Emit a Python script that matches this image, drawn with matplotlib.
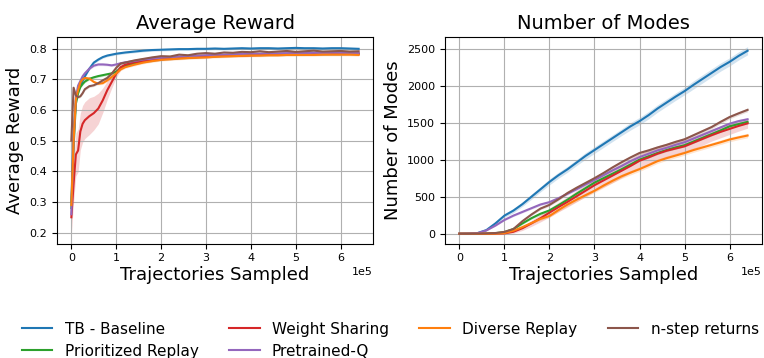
import numpy as np
import matplotlib
matplotlib.use("Agg")
import matplotlib.pyplot as plt

# ---------------- data (x in units of 1e5 trajectories) ----------------
x_reward = [0, 0.05, 0.1, 0.15, 0.2, 0.25, 0.3, 0.4, 0.5, 0.6, 0.7, 0.8, 0.9, 1.0, 1.1, 1.2,
            1.4, 1.6, 1.8, 2.0, 2.2, 2.4, 2.6, 2.8, 3.0, 3.2, 3.4, 3.6, 3.8, 4.0, 4.2, 4.4,
            4.6, 4.8, 5.0, 5.2, 5.4, 5.6, 5.8, 6.0, 6.2, 6.4]

reward_tb = [0.30, 0.52, 0.63, 0.665, 0.68, 0.695, 0.71, 0.735, 0.755, 0.765, 0.773, 0.778, 0.781, 0.784,
             0.786, 0.788, 0.791, 0.794, 0.796, 0.797, 0.798, 0.799, 0.799, 0.800, 0.800, 0.801, 0.800,
             0.801, 0.802, 0.801, 0.802, 0.802, 0.801, 0.802, 0.803, 0.802, 0.802, 0.801, 0.802, 0.802,
             0.801, 0.800]
reward_prio = [0.28, 0.48, 0.62, 0.655, 0.675, 0.685, 0.693, 0.702, 0.707, 0.711, 0.714, 0.717, 0.720, 0.725,
               0.738, 0.745, 0.752, 0.758, 0.762, 0.766, 0.768, 0.770, 0.772, 0.773, 0.775, 0.776, 0.777,
               0.778, 0.779, 0.780, 0.780, 0.781, 0.781, 0.782, 0.782, 0.782, 0.783, 0.783, 0.783, 0.783,
               0.784, 0.784]
reward_ws = [0.25, 0.36, 0.455, 0.468, 0.53, 0.555, 0.567, 0.58, 0.59, 0.605, 0.632, 0.665, 0.692, 0.719,
             0.740, 0.748, 0.756, 0.760, 0.763, 0.766, 0.768, 0.770, 0.771, 0.773, 0.774, 0.776, 0.777,
             0.778, 0.778, 0.779, 0.780, 0.781, 0.781, 0.782, 0.782, 0.783, 0.783, 0.783, 0.784, 0.784,
             0.784, 0.784]
reward_pq = [0.26, 0.50, 0.64, 0.68, 0.695, 0.71, 0.72, 0.735, 0.745, 0.749, 0.749, 0.748, 0.746, 0.749,
             0.753, 0.756, 0.760, 0.765, 0.768, 0.771, 0.772, 0.774, 0.776, 0.777, 0.779, 0.780, 0.781,
             0.782, 0.783, 0.784, 0.784, 0.785, 0.785, 0.786, 0.786, 0.786, 0.787, 0.786, 0.787, 0.787,
             0.786, 0.786]
reward_div = [0.29, 0.50, 0.635, 0.665, 0.69, 0.70, 0.705, 0.703, 0.692, 0.686, 0.688, 0.697, 0.708, 0.720,
              0.733, 0.740, 0.748, 0.755, 0.760, 0.764, 0.766, 0.768, 0.770, 0.771, 0.772, 0.774, 0.775,
              0.776, 0.777, 0.778, 0.778, 0.779, 0.779, 0.780, 0.780, 0.780, 0.780, 0.781, 0.781, 0.781,
              0.781, 0.780]
reward_nstep = [0.50, 0.673, 0.648, 0.642, 0.645, 0.655, 0.668, 0.678, 0.681, 0.688, 0.697, 0.705, 0.719,
                0.738, 0.752, 0.755, 0.762, 0.767, 0.772, 0.776, 0.775, 0.781, 0.779, 0.784, 0.786, 0.784,
                0.788, 0.787, 0.790, 0.789, 0.792, 0.789, 0.791, 0.793, 0.790, 0.792, 0.794, 0.791, 0.792,
                0.793, 0.791, 0.792]
reward_ws_band = [0.055, 0.06, 0.07, 0.07, 0.06, 0.06, 0.06, 0.06, 0.055, 0.05, 0.04, 0.03, 0.02, 0.012,
                  0.01, 0.008, 0.006, 0.005, 0.005, 0.004, 0.004, 0.004, 0.004, 0.004, 0.004, 0.004,
                  0.004, 0.004, 0.004, 0.004, 0.004, 0.004, 0.004, 0.004, 0.004, 0.004, 0.004, 0.004,
                  0.004, 0.004, 0.004, 0.004]
reward_band_other = 0.004

x_modes = [0, 0.2, 0.4, 0.6, 0.8, 1.0, 1.2, 1.4, 1.6, 1.8, 2.0, 2.2, 2.4, 2.6, 2.8, 3.0, 3.2,
           3.4, 3.6, 3.8, 4.0, 4.2, 4.4, 4.6, 4.8, 5.0, 5.2, 5.4, 5.6, 5.8, 6.0, 6.2, 6.4]
modes_tb = [0, 2, 8, 50, 140, 245, 313, 400, 500, 600, 700, 790, 870, 960, 1050, 1130, 1210,
            1290, 1370, 1450, 1520, 1600, 1690, 1770, 1850, 1925, 2010, 2090, 2170, 2250, 2320, 2400, 2470]
modes_prio = [0, 0, 0, 2, 8, 23, 64, 140, 210, 270, 315, 385, 460, 540, 615, 690, 750,
              810, 870, 935, 1000, 1045, 1090, 1130, 1165, 1195, 1245, 1295, 1345, 1395, 1450, 1480, 1510]
modes_ws = [0, 0, 0, 0, 2, 5, 27, 75, 140, 210, 285, 360, 430, 505, 580, 655, 720,
            785, 850, 915, 985, 1030, 1080, 1120, 1150, 1180, 1230, 1280, 1330, 1375, 1415, 1455, 1490]
modes_pq = [0, 2, 8, 45, 110, 186, 245, 295, 345, 395, 427, 480, 540, 600, 665, 725, 790,
            855, 915, 980, 1035, 1080, 1125, 1160, 1200, 1235, 1285, 1335, 1385, 1435, 1485, 1520, 1545]
modes_div = [0, 0, 0, 0, 3, 9, 41, 90, 145, 200, 240, 320, 395, 460, 520, 580, 650,
             715, 775, 825, 872, 925, 980, 1020, 1055, 1090, 1130, 1165, 1200, 1235, 1272, 1300, 1326]
modes_nstep = [0, 0, 2, 5, 10, 25, 64, 170, 260, 340, 390, 465, 550, 620, 685, 750, 820,
               895, 965, 1030, 1090, 1125, 1165, 1200, 1240, 1275, 1330, 1385, 1440, 1510, 1575, 1625, 1672]
modes_tb_band = [0, 0, 2, 10, 20, 25, 30, 30, 35, 35, 40, 40, 40, 40, 45, 45, 45,
                 45, 45, 50, 50, 50, 50, 50, 50, 50, 55, 55, 55, 55, 55, 55, 55]
modes_ws_band = [0, 0, 0, 2, 5, 10, 20, 30, 40, 50, 60, 65, 70, 75, 80, 85, 90,
                 95, 95, 95, 95, 95, 95, 90, 90, 90, 85, 85, 80, 80, 75, 70, 65]
modes_div_band = [0, 0, 0, 0, 2, 4, 8, 12, 15, 18, 20, 22, 24, 25, 26, 27, 28,
                  28, 29, 30, 30, 30, 30, 30, 30, 30, 30, 30, 30, 30, 30, 30, 30]
modes_band_other = [0, 0, 1, 4, 8, 10, 12, 14, 15, 16, 18, 18, 18, 19, 20, 20, 20,
                    20, 21, 22, 22, 22, 22, 22, 23, 24, 24, 24, 25, 25, 25, 25, 25]

labels = ["TB - Baseline", "Prioritized Replay", "Weight Sharing", "Pretrained-Q",
          "Diverse Replay", "n-step returns"]
colors = ["#1f77b4", "#2ca02c", "#d62728", "#9467bd", "#ff7f0e", "#8c564b"]

# ---------------- plotting ----------------
plt.rcParams['font.family'] = ['DejaVu Sans']
fig = plt.figure(figsize=(7.64, 3.58), dpi=100)
ax1 = fig.add_axes([57 / 764, 1 - 243.5 / 358, 316 / 764, 206.2 / 358])
ax2 = fig.add_axes([445 / 764, 1 - 243.5 / 358, 317 / 764, 206.2 / 358])

xr = np.array(x_reward) * 1e5
xm = np.array(x_modes) * 1e5

reward_series = [reward_tb, reward_prio, reward_ws, reward_pq, reward_div, reward_nstep]
reward_bands = [reward_band_other, reward_band_other, reward_ws_band, reward_band_other,
                reward_band_other, reward_band_other]
modes_series = [modes_tb, modes_prio, modes_ws, modes_pq, modes_div, modes_nstep]
modes_bands = [modes_tb_band, modes_band_other, modes_ws_band, modes_band_other,
               modes_div_band, modes_band_other]

handles = []
for ys, bd, c, lab in zip(reward_series, reward_bands, colors, labels):
    ys = np.array(ys)
    bd = np.array(bd) if np.ndim(bd) else bd
    ax1.fill_between(xr, ys - bd, ys + bd, color=c, alpha=0.2, lw=0)
    h, = ax1.plot(xr, ys, color=c, lw=1.5, label=lab)
    handles.append(h)

for ys, bd, c in zip(modes_series, modes_bands, colors):
    ys = np.array(ys, dtype=float)
    bd = np.array(bd, dtype=float)
    ax2.fill_between(xm, ys - bd, ys + bd, color=c, alpha=0.2, lw=0)
    ax2.plot(xm, ys, color=c, lw=1.5)

for ax, title, ylab in [(ax1, "Average Reward", "Average Reward"),
                        (ax2, "Number of Modes", "Number of Modes")]:
    ax.set_title(title, fontsize=14)
    ax.set_xlabel("Trajectories Sampled", fontsize=13, labelpad=2)
    ax.set_ylabel(ylab, fontsize=13)
    ax.set_xticks(np.arange(0, 7) * 1e5)
    ax.ticklabel_format(axis='x', style='sci', scilimits=(0, 0))
    ax.tick_params(labelsize=8)
    ax.xaxis.get_offset_text().set_fontsize(8)
    ax.grid(True, color="#b0b0b0", lw=0.8)

ax1.set_yticks([0.2, 0.3, 0.4, 0.5, 0.6, 0.7, 0.8])
ax2.set_yticks([0, 500, 1000, 1500, 2000, 2500])

fig.legend(handles=handles, labels=labels, ncol=4, frameon=False, fontsize=11,
           labelspacing=0.45, loc="upper left", bbox_to_anchor=(8 / 764, 1 - 308 / 358))

fig.savefig("out.png", dpi=100)
